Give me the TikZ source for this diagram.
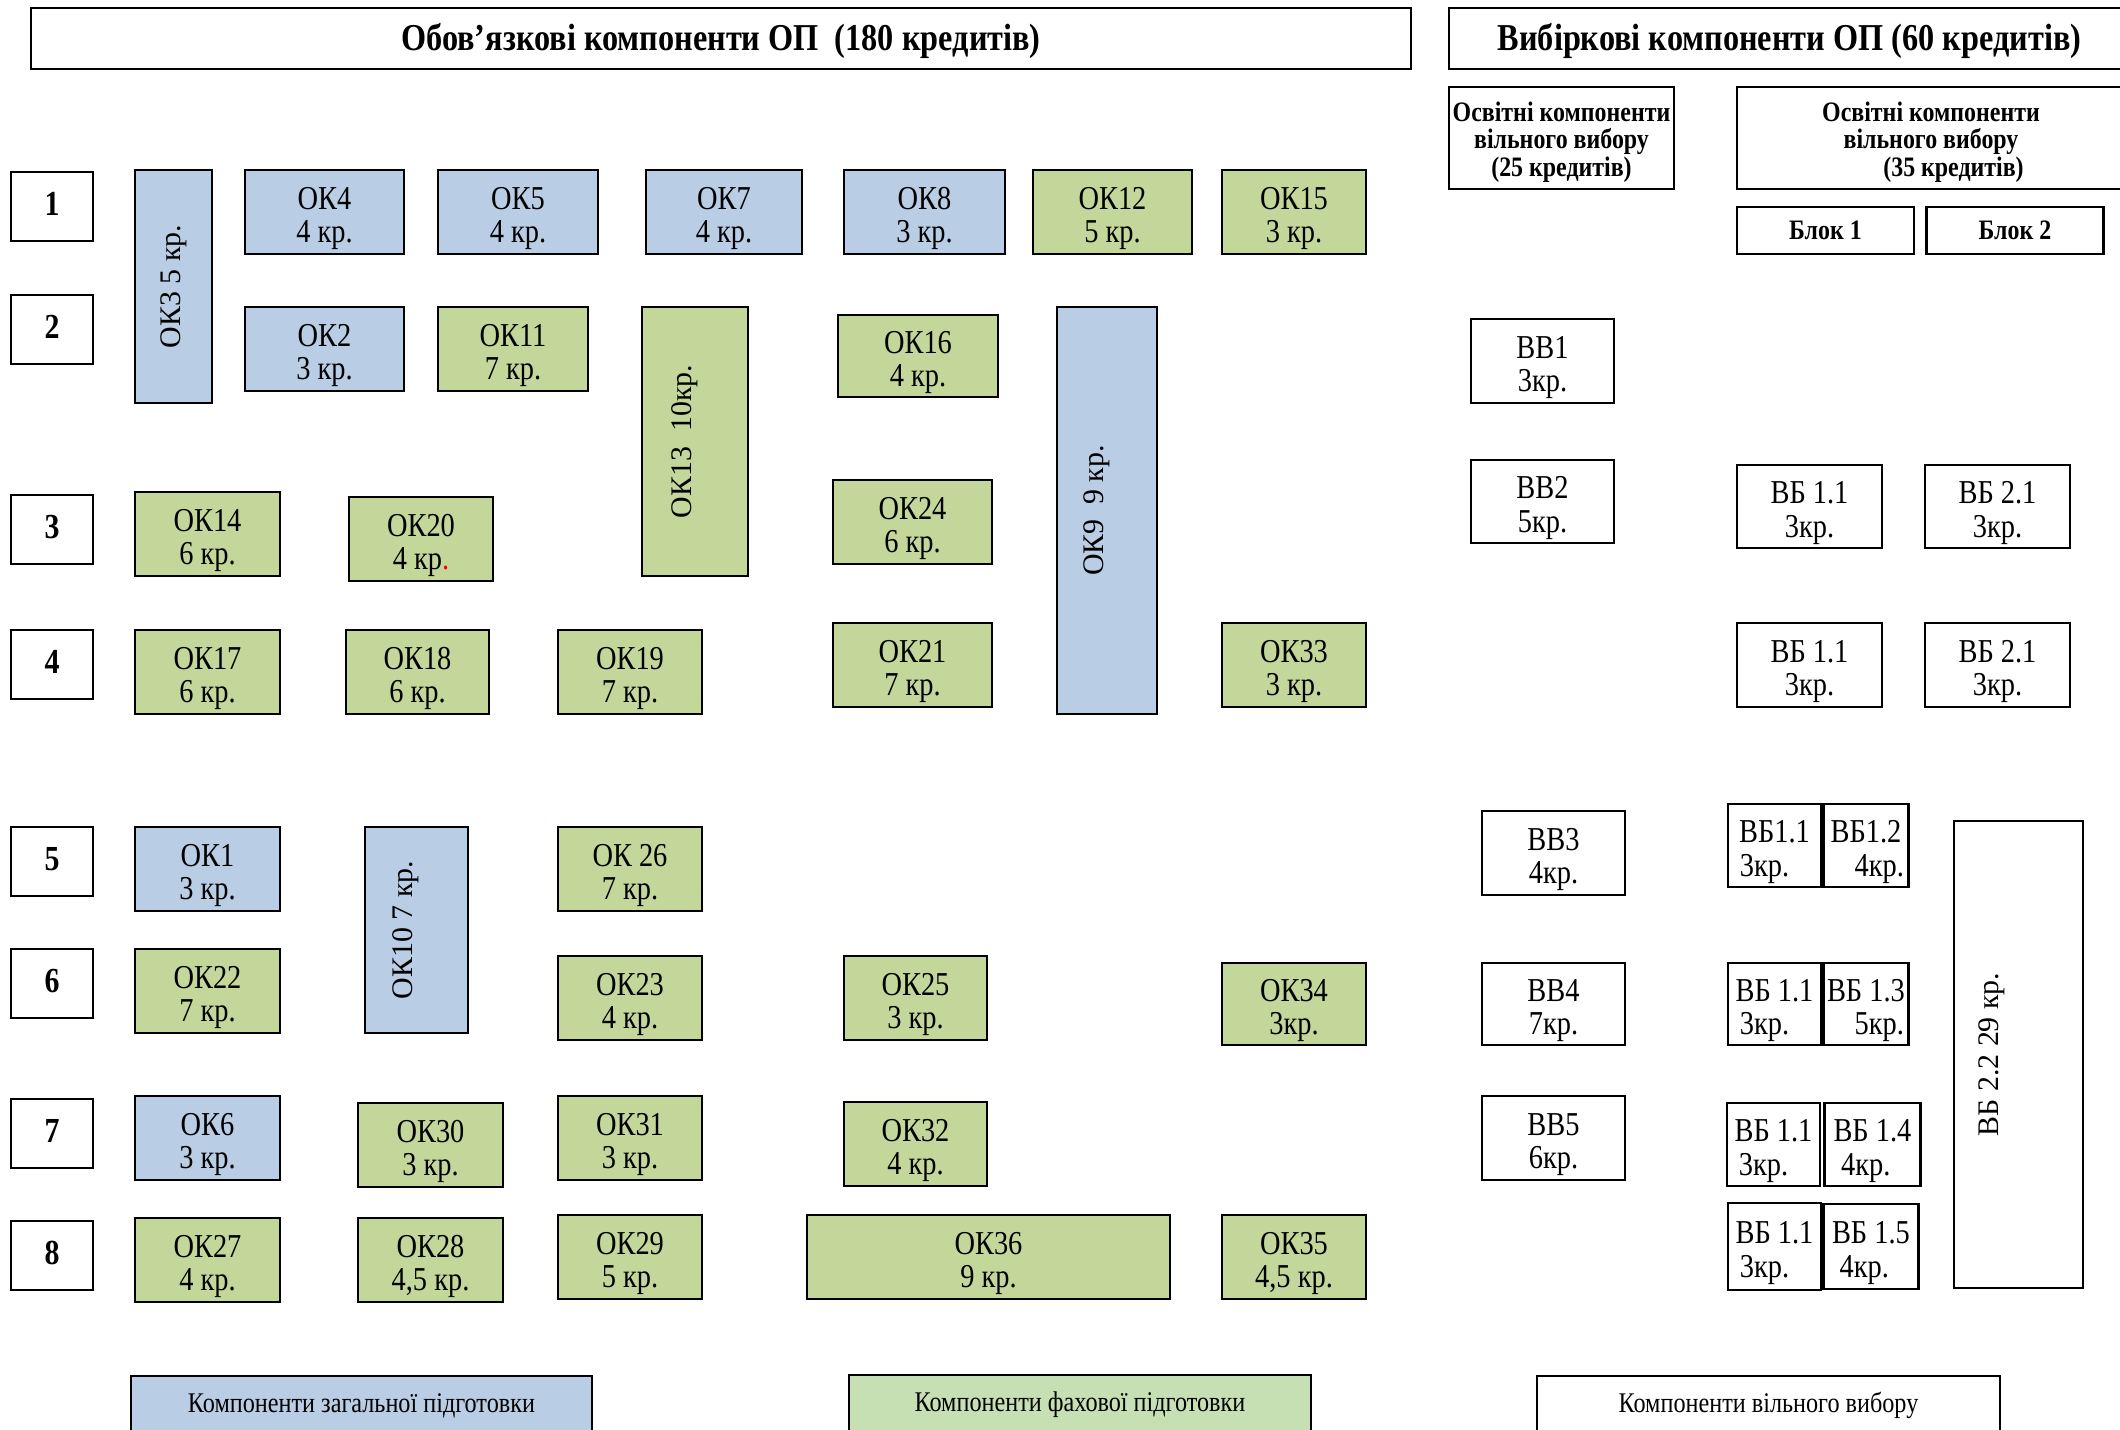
\documentclass[tikz,border=0pt]{standalone}
\usepackage{fontspec}
\setmainfont{Liberation Serif}[FakeStretch=0.85]
\newfontfamily\rotfont{Liberation Serif}
\usetikzlibrary{positioning}
\definecolor{genblue}{HTML}{B9CDE5}
\definecolor{progreen}{HTML}{C4D79B}
\definecolor{leggreen}{HTML}{C6E0B4}

\begin{document}
\begin{tikzpicture}[x=0.01cm, y=-0.01cm,
  box/.style = {draw, line width=0.7pt, inner sep=0pt, align=center, font=\fontsize{9.5}{9.6}\selectfont},
  boxsize/.style 2 args = {minimum width=#1*0.01cm, minimum height=#2*0.01cm},
  card/.style = {box, text height=19.6pt, text depth=2pt},
  gen/.style = {card, fill=genblue},
  pro/.style = {card, fill=progreen},
  sel/.style = {card, fill=white},
  vert/.style = {rotate=90, text height=6pt, text depth=8pt, font=\rotfont\fontsize{8.5}{10}\selectfont},
  num/.style = {box, text height=6.8pt, text depth=1.5pt, font=\bfseries\fontsize{10}{12}\selectfont},
  head/.style = {box, text height=8pt, text depth=1.2pt, font=\bfseries\fontsize{10.8}{12}\selectfont},
  sub/.style = {box, font=\bfseries\fontsize{8}{7.8}\selectfont},
  legend/.style = {box, font=\fontsize{8.1}{9}\selectfont}]
\useasboundingbox (0,0) rectangle (2120,1429);

% headers
\node[head, boxsize={1380}{61}] (oblig) at (721,38.5) {Обов’язкові компоненти ОП\ \ (180 кредитів)};
\node[head, boxsize={681}{61}] (elect) at (1789.5,38.5) {Вибіркові компоненти ОП (60 кредитів)};
\node[sub, text height=23.7pt, text depth=2pt, boxsize={225}{102}] (free25) at (1561.5,138) {Освітні компоненти\\вільного вибору\\(25 кредитів)};
\node[sub, text height=23.7pt, text depth=2pt, boxsize={388}{102}] (free35) at (1931,138) {Освітні компоненти\\вільного вибору\\\hspace*{1.6em}(35 кредитів)};
\node[sub, boxsize={177}{47}] (blok1) at (1825.5,230.5) {Блок 1};
\node[sub, boxsize={177}{47}] (blok2) [right=10*0.01cm of blok1] {Блок 2};

% semesters
\node[num, boxsize={82}{69}] (r1) at (52,206.5) {1};
\node[num, boxsize={82}{69}] (r2) at (52,329.5) {2};
\node[num, boxsize={82}{69}] (r3) at (52,529.5) {3};
\node[num, boxsize={82}{69}] (r4) at (52,664.5) {4};
\node[num, boxsize={82}{69}] (r5) at (52,861.5) {5};
\node[num, boxsize={82}{69}] (r6) at (52,983.5) {6};
\node[num, boxsize={82}{69}] (r7) at (52,1133.5) {7};
\node[num, boxsize={82}{69}] (r8) at (52,1255.5) {8};

% obligatory components
\node[gen, vert, text depth=2pt, boxsize={233}{77}] (ok3) at (173.5,286.5) {ОК3 5 кр.};
\node[gen, boxsize={159}{84}] (ok4) at (324.5,212) {ОК4\\4 кр.};
\node[gen, boxsize={160}{84}] (ok5) at (518,212) {ОК5\\4 кр.};
\node[gen, boxsize={156}{84}] (ok7) at (724,212) {ОК7\\4 кр.};
\node[gen, boxsize={161}{84}] (ok8) at (924.5,212) {ОК8\\3 кр.};
\node[pro, boxsize={159}{84}] (ok12) at (1112.5,212) {ОК12\\5 кр.};
\node[pro, boxsize={144}{84}] (ok15) at (1294,212) {ОК15\\3 кр.};
\node[gen, boxsize={159}{84}] (ok2) at (324.5,349) {ОК2\\3 кр.};
\node[pro, boxsize={150}{84}] (ok11) at (513,349) {ОК11\\7 кр.};
\node[pro, vert, boxsize={269}{106}] (ok13) at (695,441.5) {ОК13\ \ 10кр.};
\node[pro, boxsize={160}{82}] (ok16) at (918,356) {ОК16\\4 кр.};
\node[gen, vert, boxsize={407}{100}] (ok9) at (1107,510.5) {ОК9\ \ 9 кр.};
\node[pro, boxsize={145}{84}] (ok14) at (207.5,534) {ОК14\\6 кр.};
\node[pro, boxsize={144}{84}] (ok20) at (421,539) {ОК20\\4 кр\textcolor{red}{.}};
\node[pro, boxsize={159}{84}] (ok24) at (912.5,522) {ОК24\\6 кр.};
\node[pro, boxsize={145}{84}] (ok17) at (207.5,672) {ОК17\\6 кр.};
\node[pro, boxsize={143}{84}] (ok18) at (417.5,672) {ОК18\\6 кр.};
\node[pro, boxsize={144}{84}] (ok19) at (630,672) {ОК19\\7 кр.};
\node[pro, boxsize={159}{84}] (ok21) at (912.5,665) {ОК21\\7 кр.};
\node[pro, boxsize={144}{84}] (ok33) at (1294,665) {ОК33\\3 кр.};
\node[gen, boxsize={145}{84}] (ok1) at (207.5,869) {ОК1\\3 кр.};
\node[gen, vert, boxsize={206}{103}] (ok10) at (416.5,930) {ОК10 7 кр.};
\node[pro, boxsize={144}{84}] (ok26) at (630,869) {ОК 26\\7 кр.};
\node[pro, boxsize={145}{84}] (ok22) at (207.5,991) {ОК22\\7 кр.};
\node[pro, boxsize={144}{84}] (ok23) at (630,998) {ОК23\\4 кр.};
\node[pro, boxsize={143}{84}] (ok25) at (915.5,998) {ОК25\\3 кр.};
\node[pro, boxsize={144}{82}] (ok34) at (1294,1004) {ОК34\\3кр.};
\node[gen, boxsize={145}{84}] (ok6) at (207.5,1138) {ОК6\\3 кр.};
\node[pro, boxsize={145}{84}] (ok30) at (430.5,1145) {ОК30\\3 кр.};
\node[pro, boxsize={144}{84}] (ok31) at (630,1138) {ОК31\\3 кр.};
\node[pro, boxsize={143}{84}] (ok32) at (915.5,1144) {ОК32\\4 кр.};
\node[pro, boxsize={145}{84}] (ok27) at (207.5,1260) {ОК27\\4 кр.};
\node[pro, boxsize={145}{84}] (ok28) at (430.5,1260) {ОК28\\4,5 кр.};
\node[pro, boxsize={144}{84}] (ok29) at (630,1257) {ОК29\\5 кр.};
\node[pro, boxsize={363}{84}] (ok36) at (988.5,1257) {ОК36\\9 кр.};
\node[pro, boxsize={144}{84}] (ok35) at (1294,1257) {ОК35\\4,5 кр.};

% elective components
\node[sel, boxsize={143}{84}] (vv1) at (1542.5,361) {ВВ1\\3кр.};
\node[sel, boxsize={143}{83}] (vv2) at (1542.5,501.5) {ВВ2\\5кр.};
\node[sel, boxsize={143}{84}] (vv3) at (1553.5,853) {ВВ3\\4кр.};
\node[sel, boxsize={143}{82}] (vv4) at (1553.5,1004) {ВВ4\\7кр.};
\node[sel, boxsize={143}{84}] (vv5) at (1553.5,1138) {ВВ5\\6кр.};
\node[sel, boxsize={145}{83}] (vb11a) at (1809.5,506.5) {ВБ 1.1\\3кр.};
\node[sel, boxsize={145}{83}] (vb21a) at (1997.5,506.5) {ВБ 2.1\\3кр.};
\node[sel, boxsize={145}{84}] (vb11b) at (1809.5,665) {ВБ 1.1\\3кр.};
\node[sel, boxsize={145}{84}] (vb21b) at (1997.5,665) {ВБ 2.1\\3кр.};
\node[sel, boxsize={93}{83}] (vb11c) at (1774.5,845.5) {ВБ1.1\\3кр.\hspace*{0.6em}};
\node[sel, boxsize={85}{83}] (vb12) [right=0pt of vb11c] {ВБ1.2\\\hspace*{0.8em}4кр.};
\node[sel, boxsize={93}{82}] (vb11d) at (1774.5,1004) {ВБ 1.1\\3кр.\hspace*{0.6em}};
\node[sel, boxsize={85}{82}] (vb13) [right=0pt of vb11d] {ВБ 1.3\\\hspace*{0.8em}5кр.};
\node[sel, boxsize={93}{83}] (vb11e) at (1773.5,1144.5) {ВБ 1.1\\3кр.\hspace*{0.6em}};
\node[sel, boxsize={96}{83}] (vb14) [right=2*0.01cm of vb11e] {ВБ 1.4\\4кр.\hspace*{0.4em}};
\node[sel, boxsize={93}{87}] (vb11f) at (1774.5,1246.5) {ВБ 1.1\\3кр.\hspace*{0.6em}};
\node[sel, boxsize={95}{85}] (vb15) [right=0pt of vb11f] {ВБ 1.5\\4кр.\hspace*{0.4em}};
\node[sel, vert, text depth=17.4pt, boxsize={467}{129}] (vb22) at (2018.5,1054.5) {ВБ 2.2 29 кр.};

% legend
\node[legend, fill=genblue, boxsize={461}{59}] (leggen) at (361.5,1405.5) {Компоненти загальної підготовки};
\node[legend, fill=leggreen, boxsize={462}{60}] (legpro) at (1080,1405) {Компоненти фахової підготовки};
\node[legend, fill=white, boxsize={463}{59}] (legsel) at (1768.5,1405.5) {Компоненти вільного вибору};
\end{tikzpicture}
\end{document}
